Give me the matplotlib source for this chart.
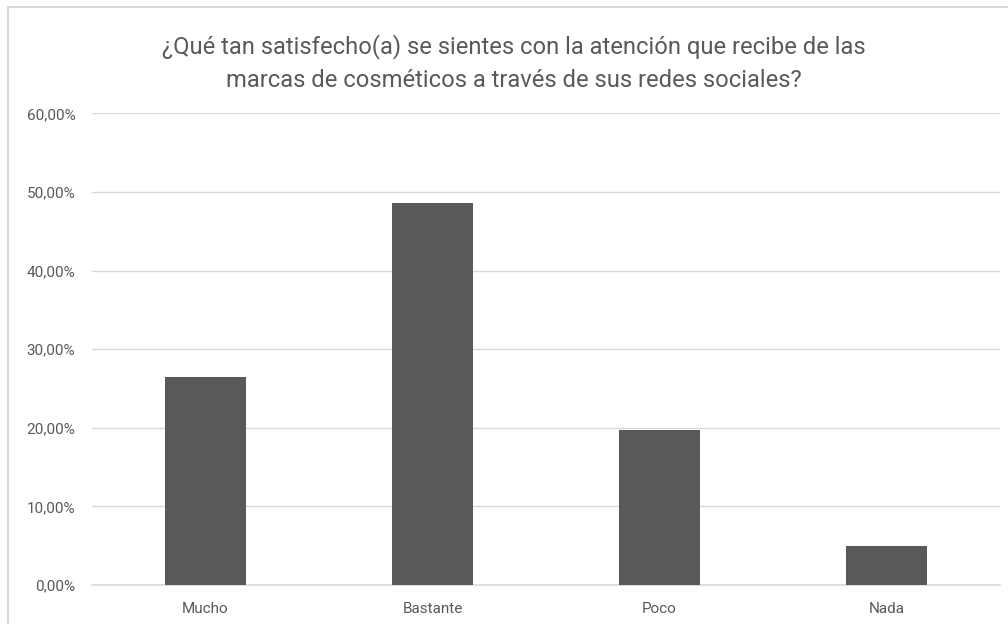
import matplotlib
matplotlib.use("Agg")
import matplotlib.pyplot as plt
from matplotlib.patches import Rectangle
from matplotlib.ticker import FuncFormatter

# survey answers (share of respondents, %)
categories = ["Mucho", "Bastante", "Poco", "Nada"]
values = [26.5, 48.6, 19.7, 4.9]
yticks = [0, 10, 20, 30, 40, 50, 60]

title = ("¿Qué tan satisfecho(a) se sientes con la atención que recibe de las\n"
         "marcas de cosméticos a través de sus redes sociales?")

plt.rcParams["font.family"] = ["Roboto", "DejaVu Sans"]

fig = plt.figure(figsize=(10.08, 6.24), dpi=100)
ax = fig.add_axes([0.0913, 0.0625, 0.9007, 0.7559])

# chart area outline
fig.patches.append(Rectangle((8 / 1008, -0.1), 1.2, 0.1 + (624 - 6.5) / 624,
                             transform=fig.transFigure, fill=False,
                             edgecolor="#d9d9d9", linewidth=1.5))

x = range(len(categories))
ax.bar(x, values, width=0.355, color="#595959", zorder=3)

ax.set_xlim(-0.5, len(categories) - 0.5)
ax.set_ylim(0, 60)
ax.set_yticks(yticks)
ax.yaxis.set_major_formatter(FuncFormatter(lambda v, p: f"{v:.2f}%".replace(".", ",")))
ax.set_xticks(list(x))
ax.set_xticklabels(categories)

ax.grid(axis="y", color="#d9d9d9", linewidth=1, zorder=0)
for s in ["top", "right", "left"]:
    ax.spines[s].set_visible(False)
ax.spines["bottom"].set_color("#d9d9d9")
ax.spines["bottom"].set_linewidth(1.2)

ax.tick_params(axis="both", length=0, colors="#595959", labelsize=11)
ax.tick_params(axis="y", pad=12)
ax.tick_params(axis="x", pad=12)

fig.text(0.51, 0.899, title, ha="center", va="center", fontsize=17.1,
         color="#595959", linespacing=1.55)

fig.savefig("out.png", dpi=100, facecolor="white")
